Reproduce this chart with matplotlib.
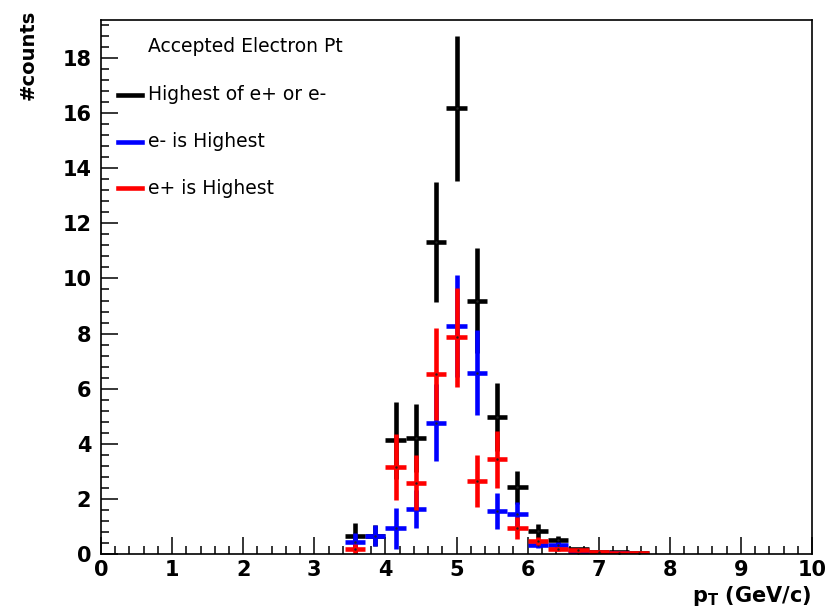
import numpy as np
import matplotlib
matplotlib.use("Agg")
import matplotlib.pyplot as plt
from matplotlib.lines import Line2D

# histogram binning: 35 bins between 0 and 10 GeV/c, filled bins 12..26
n_bins = 35
pt_range = (0.0, 10.0)
first_bin = 12

# bin contents and errors (filled bins only)
highest_vals = [0.66, 0.66, 4.12, 4.20, 11.33, 16.17, 9.20, 4.98, 2.42, 0.83, 0.51, 0.17, 0.08, 0.07, 0.03]
highest_errs = [0.47, 0.38, 1.39, 1.24, 2.17, 2.64, 1.89, 1.24, 0.60, 0.25, 0.15, 0.06, 0.04, 0.03, 0.02]
eminus_vals = [0.45, 0.66, 0.93, 1.63, 4.77, 8.28, 6.58, 1.57, 1.45, 0.33, 0.33, 0.04, 0.0, 0.05, 0.0]
eminus_errs = [0.30, 0.38, 0.75, 0.70, 1.40, 1.84, 1.54, 0.65, 0.45, 0.12, 0.10, 0.02, 0.0, 0.02, 0.0]
eplus_vals = [0.18, 0.0, 3.17, 2.59, 6.52, 7.86, 2.65, 3.43, 0.93, 0.47, 0.18, 0.13, 0.08, 0.02, 0.03]
eplus_errs = [0.20, 0.0, 1.20, 1.00, 1.67, 1.80, 0.95, 1.03, 0.40, 0.15, 0.08, 0.05, 0.04, 0.02, 0.02]

labels = ["Highest of e+ or e-", "e- is Highest", "e+ is Highest"]
colors = ["black", "#0000ff", "#ff0000"]

edges = np.linspace(pt_range[0], pt_range[1], n_bins + 1)
width = edges[1] - edges[0]
centers = (edges[:-1] + edges[1:]) / 2
x = centers[first_bin:first_bin + len(highest_vals)]

plt.rcParams["font.family"] = "DejaVu Sans"

fig = plt.figure(figsize=(8.34, 6.14), dpi=100)
ax = fig.add_axes([101 / 834, 60 / 614, 711 / 834, 534 / 614])

series = [(highest_vals, highest_errs), (eminus_vals, eminus_errs), (eplus_vals, eplus_errs)]
for (vals, errs), c in zip(series, colors):
    vals = np.array(vals)
    errs = np.array(errs)
    m = vals > 0
    ax.errorbar(x[m], vals[m], yerr=errs[m], xerr=width / 2, fmt="none",
                ecolor=c, elinewidth=3.3, capsize=0)
    ax.plot(x[m], vals[m], ".", color="#222222", ms=1.5)

ax.set_xlim(0, 10)
ax.set_ylim(0, 19.38)
ax.set_xticks(np.arange(0, 11, 1))
ax.set_xticks(np.arange(0, 10.01, 0.2), minor=True)
ax.set_yticks(np.arange(0, 19, 2))
ax.set_yticks(np.arange(0, 19.3, 0.4), minor=True)
ax.tick_params(which="both", direction="in", top=False, right=False, width=1.1)
ax.tick_params(which="major", length=12, labelsize=15)
ax.tick_params(which="minor", length=6)
ax.tick_params(axis="x", pad=4)
ax.tick_params(axis="y", pad=7)
for lab in ax.get_xticklabels() + ax.get_yticklabels():
    lab.set_fontweight("bold")
for s in ax.spines.values():
    s.set_linewidth(1.2)

fig.text(28 / 834, 1 - 10 / 614, "#counts", rotation=90, ha="center", va="top",
         fontsize=14, fontweight="bold")
fig.text(812 / 834, 1 - 584 / 614, r"$\mathbf{p_{T}}$ (GeV/c)", ha="right", va="top",
         fontsize=15, fontweight="bold")

# legend
fig.text(148 / 834, 1 - 46 / 614, "Accepted Electron Pt", ha="left", va="center", fontsize=13.5)
for i, (lab, c) in enumerate(zip(labels, colors)):
    yy = 1 - (95 + 46.5 * i) / 614
    fig.add_artist(Line2D([118 / 834, 142 / 834], [yy, yy], color=c, lw=3.3))
    fig.text(148 / 834, yy, lab, ha="left", va="center", fontsize=13.5)

fig.savefig("out.png", dpi=100)
